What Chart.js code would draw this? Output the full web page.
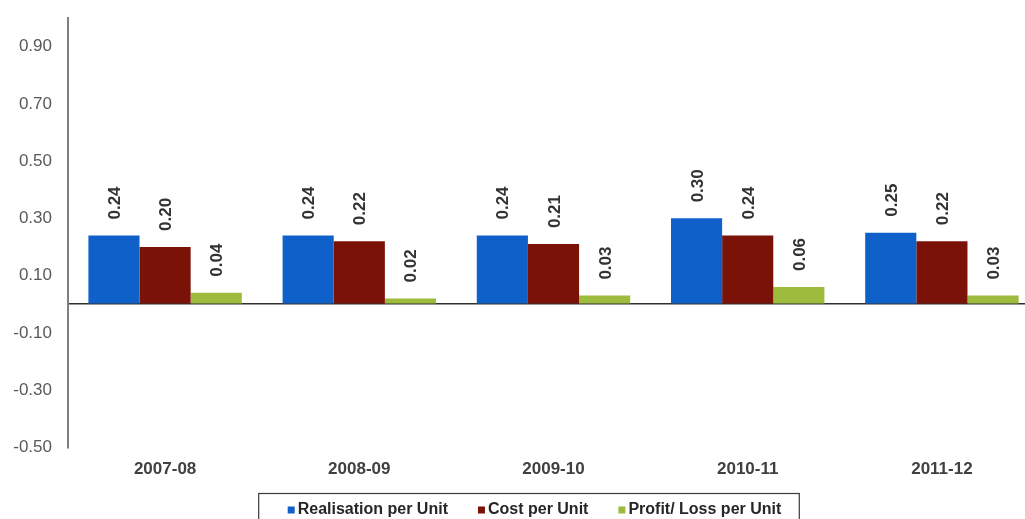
<!DOCTYPE html>
<html>
<head>
<meta charset="utf-8">
<script src="https://cdn.jsdelivr.net/npm/chart.js@4.4.1/dist/chart.umd.min.js"></script>
<style>
  html, body { margin: 0; padding: 0; background: #fff; overflow: hidden; }
  #wrap { width: 1039px; height: 519px; }
</style>
</head>
<body>
<div id="wrap"><canvas id="unitChart" width="1039" height="519"></canvas></div>
<script>
var years = ['2007-08', '2008-09', '2009-10', '2010-11', '2011-12'];
var realisation = [0.24, 0.24, 0.24, 0.30, 0.25];
var cost = [0.20, 0.22, 0.21, 0.24, 0.22];
var profit = [0.04, 0.02, 0.03, 0.06, 0.03];
var yTicks = [-0.5, -0.3, -0.1, 0, 0.1, 0.3, 0.5, 0.7, 0.9];

var FONT = "'Liberation Sans', Arial, sans-serif";
Chart.defaults.font.family = FONT;

// value printed sideways above every bar
var barValues = {
  id: 'barValues',
  afterDatasetsDraw: function(chart) {
    var ctx = chart.ctx;
    ctx.save();
    ctx.font = 'bold 17px ' + FONT;
    ctx.fillStyle = '#333333';
    ctx.textAlign = 'left';
    ctx.textBaseline = 'alphabetic';
    chart.data.datasets.forEach(function(ds, i) {
      chart.getDatasetMeta(i).data.forEach(function(bar, j) {
        ctx.save();
        ctx.translate(bar.x, bar.y - 16);
        ctx.rotate(-Math.PI / 2);
        ctx.fillText(ds.data[j].toFixed(2), 0, 6);
        ctx.restore();
      });
    });
    ctx.restore();
  }
};

// boxed legend along the bottom edge, built from the dataset labels/colours
var boxLegend = {
  id: 'boxLegend',
  afterDraw: function(chart) {
    var ctx = chart.ctx;
    var sets = chart.data.datasets;
    var centre = 534.5, midY = 510, gap = 30, marker = 7, textGap = 3;
    ctx.save();
    ctx.font = 'bold 16px ' + FONT;
    var widths = sets.map(function(ds) { return ctx.measureText(ds.label).width; });
    var total = 0;
    widths.forEach(function(w) { total += marker + textGap + w; });
    total += gap * (sets.length - 1);
    var x = centre - total / 2;
    var left = x - 29, right = x + total + 18;

    ctx.strokeStyle = '#3a3a3a';
    ctx.lineWidth = 1.2;
    ctx.strokeRect(left, 493.5, right - left, 40);

    ctx.textAlign = 'left';
    ctx.textBaseline = 'middle';
    sets.forEach(function(ds, i) {
      ctx.fillStyle = ds.backgroundColor;
      ctx.fillRect(x, midY - marker / 2, marker, marker);
      ctx.fillStyle = '#262626';
      ctx.fillText(ds.label, x + marker + textGap, midY);
      x += marker + textGap + widths[i] + gap;
    });
    ctx.restore();
  }
};

new Chart(document.getElementById('unitChart'), {
  type: 'bar',
  data: {
    labels: years,
    datasets: [{
      label: 'Realisation per Unit',
      data: realisation,
      backgroundColor: '#1060c9',
      borderWidth: 0
    }, {
      label: 'Cost per Unit',
      data: cost,
      backgroundColor: '#7b1207',
      borderWidth: 0
    }, {
      label: 'Profit/ Loss per Unit',
      data: profit,
      backgroundColor: '#9dbb3d',
      borderWidth: 0
    }]
  },
  options: {
    responsive: false,
    animation: false,
    devicePixelRatio: 1,
    categoryPercentage: 0.79,
    barPercentage: 1.0,
    layout: { padding: { top: 18, left: 0, right: 0, bottom: 0 } },
    plugins: {
      tooltip: { enabled: false },
      legend: { display: false }
    },
    scales: {
      x: {
        offset: true,
        grid: { display: false, drawTicks: false },
        border: { display: false },
        ticks: {
          padding: 12,
          maxRotation: 0,
          color: '#404040',
          font: { size: 17, weight: 'bold' }
        },
        afterFit: function(scale) { scale.height = 519 - 447.3; }
      },
      y: {
        min: -0.5,
        max: 1.0,
        afterBuildTicks: function(scale) {
          scale.ticks = yTicks.map(function(v) { return { value: v }; });
        },
        afterFit: function(scale) {
          scale.width = 68;
          scale.paddingTop = 0;
          scale.paddingBottom = 0;
        },
        ticks: {
          padding: 16,
          color: '#595959',
          font: { size: 17 },
          callback: function(v) { return v === 0 ? '' : v.toFixed(2); }
        },
        grid: {
          drawTicks: false,
          lineWidth: 1.5,
          color: function(c) {
            return c.tick && c.tick.value === 0 ? '#303030' : 'rgba(0,0,0,0)';
          }
        },
        border: { color: '#7f7f7f', width: 2 }
      }
    }
  },
  plugins: [barValues, boxLegend]
});
</script>
</body>
</html>
